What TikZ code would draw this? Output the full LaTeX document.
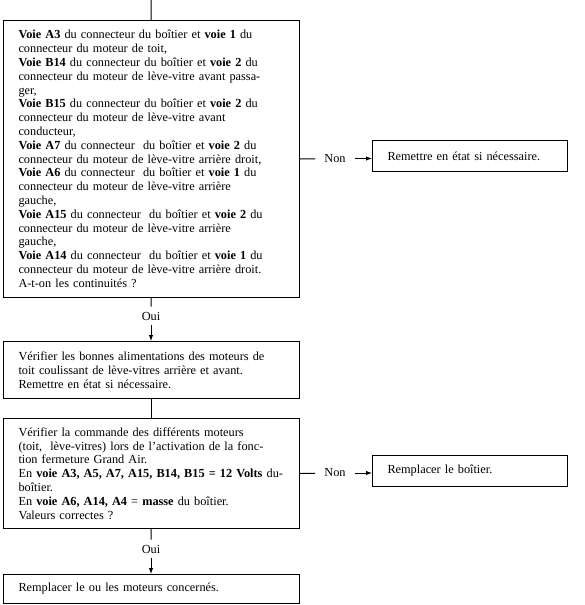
\documentclass[tikz,border=0pt]{standalone}
\usepackage{fontspec}
\setmainfont{Liberation Serif}
\usetikzlibrary{arrows.meta, positioning}
\tikzset{
  txt/.style={font=\fontsize{12.3}{13.8}\selectfont},
  stepbox/.style={txt, draw, line width=1pt, align=left, inner xsep=15pt, inner ysep=0pt, anchor=north west},
  flow/.style={line width=1pt},
  flowarrow/.style={flow, -{Latex[length=6pt,width=4.5pt]}},
  lbl/.style={txt, inner xsep=9pt, inner ysep=5pt}
}
\begin{document}
\begin{tikzpicture}[x=1pt, y=-1pt]
  \useasboundingbox (0,0) rectangle (584,605);
  \coordinate (top) at (151,0);
  \node[stepbox, text width=266pt, minimum height=277pt] (check1) at (3,20) {%
    \textbf{Voie A3} du connecteur du boîtier et \textbf{voie 1} du\\
    connecteur du moteur de toit,\\
    \textbf{Voie B14} du connecteur du boîtier et \textbf{voie 2} du\\
    connecteur du moteur de lève-vitre avant passa-\\
    ger,\\
    \textbf{Voie B15} du connecteur du boîtier et \textbf{voie 2} du\\
    connecteur du moteur de lève-vitre avant\\
    conducteur,\\
    \textbf{Voie A7} du connecteur\ \ du boîtier et \textbf{voie 2} du\\
    connecteur du moteur de lève-vitre arrière droit,\\
    \textbf{Voie A6} du connecteur\ \ du boîtier et \textbf{voie 1} du\\
    connecteur du moteur de lève-vitre arrière\\
    gauche,\\
    \textbf{Voie A15} du connecteur\ \ du boîtier et \textbf{voie 2} du\\
    connecteur du moteur de lève-vitre arrière\\
    gauche,\\
    \textbf{Voie A14} du connecteur\ \ du boîtier et \textbf{voie 1} du\\
    connecteur du moteur de lève-vitre arrière droit.\\
    A-t-on les continuités ?};
  \node[stepbox, text width=165pt, minimum height=31pt] (fix1) at (372,140) {Remettre en état si nécessaire.};
  \node[lbl] (non1) at (335,158.5) {Non};
  \node[lbl] (oui1) at (151,316) {Oui};
  \node[stepbox, text width=266pt, minimum height=57pt] (check2) at (3,341) {%
    Vérifier les bonnes alimentations des moteurs de\\
    toit coulissant de lève-vitres arrière et avant.\\
    Remettre en état si nécessaire.};
  \node[stepbox, text width=266pt, minimum height=110pt] (check3) at (3,418) {%
    Vérifier la commande des différents moteurs\\
    (toit,\ \ lève-vitres) lors de l’activation de la fonc-\\
    tion fermeture Grand Air.\\
    En \textbf{voie A3, A5, A7, A15, B14, B15 = 12 Volts} du-\\
    boîtier.\\
    En \textbf{voie A6, A14, A4} = \textbf{masse} du boîtier.\\
    Valeurs correctes ?};
  \node[stepbox, text width=165pt, minimum height=31pt] (fix2) at (372,455) {Remplacer le boîtier.};
  \node[lbl] (non2) at (335,473) {Non};
  \node[lbl] (oui2) at (151,549) {Oui};
  \node[stepbox, text width=266pt, minimum height=29pt] (fix3) at (3,574) {Remplacer le ou les moteurs concernés.};
  \draw[flow] (top) -- (check1);
  \draw[flow] (check1.east) -- (non1);
  \draw[flowarrow] (non1) -- (non1 -| fix1.west);
  \draw[flow] (check1) -- (oui1);
  \draw[flowarrow] (oui1) -- (oui1 |- check2.north);
  \draw[flow] (check2) -- (check3);
  \draw[flow] (check3.east) -- (non2);
  \draw[flowarrow] (non2) -- (non2 -| fix2.west);
  \draw[flow] (check3) -- (oui2);
  \draw[flowarrow] (oui2) -- (oui2 |- fix3.north);
\end{tikzpicture}
\end{document}
